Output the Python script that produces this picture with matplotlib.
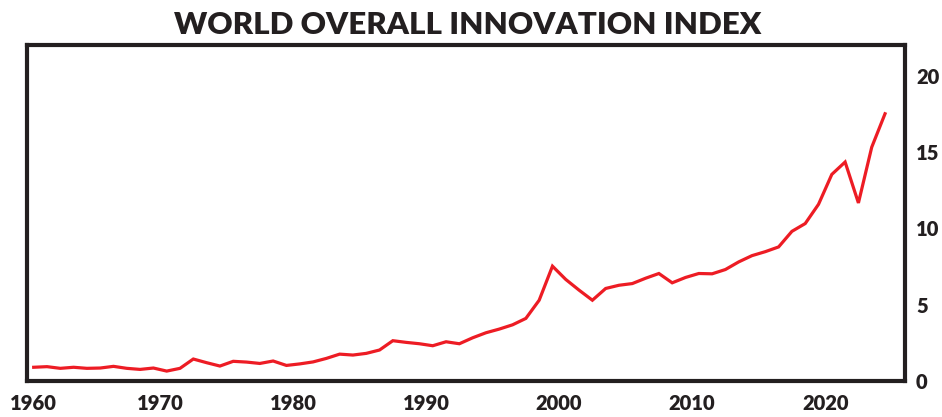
import numpy as np
import matplotlib.pyplot as plt
import matplotlib.transforms as mtransforms

# 연도별 세계 혁신 지수
years = list(range(1960, 2025))
index_values = [
    0.90, 0.94, 0.83, 0.90, 0.83, 0.85, 0.96, 0.83, 0.76, 0.85,  # 1960s
    0.65, 0.83, 1.44, 1.20, 0.98, 1.29, 1.24, 1.15, 1.31, 1.02,  # 1970s
    1.12, 1.25, 1.48, 1.76, 1.70, 1.81, 2.03, 2.64, 2.53, 2.44,  # 1980s
    2.31, 2.57, 2.44, 2.83, 3.16, 3.40, 3.68, 4.10, 5.29, 7.52,  # 1990s
    6.65, 5.95, 5.29, 6.06, 6.27, 6.38, 6.73, 7.04, 6.43, 6.78,  # 2000s
    7.04, 7.02, 7.30, 7.80, 8.21, 8.47, 8.78, 9.80, 10.31, 11.57,  # 2010s
    13.53, 14.34, 11.66, 15.31, 17.50,  # 2020s
]
x_ticks = [1960, 1970, 1980, 1990, 2000, 2010, 2020]
y_ticks = [0, 5, 10, 15, 20]

TEXT_COLOR = '#231f20'
LINE_COLOR = '#ed1c24'

plt.rcParams['font.family'] = ['Lato', 'DejaVu Sans']

fig = plt.figure(figsize=(9.42, 4.17), dpi=100)
ax = fig.add_axes([0.0287, 0.0863, 0.932, 0.8057])

# 연중(7월) 기준으로 찍기 위해 0.5년 이동
x = np.array(years) + 0.5
ax.plot(x, index_values, color=LINE_COLOR, linewidth=2.3, solid_joinstyle='miter')

ax.set_xlim(1960, 2026)
ax.set_ylim(0, 22)

ax.set_xticks(x_ticks)
ax.set_xticklabels([str(t) for t in x_ticks])
ax.set_yticks(y_ticks)
ax.yaxis.tick_right()

ax.tick_params(axis='both', length=0, labelsize=14.5, labelcolor=TEXT_COLOR)
ax.tick_params(axis='x', pad=9)
ax.tick_params(axis='y', pad=8)
for lbl in ax.get_xticklabels() + ax.get_yticklabels():
    lbl.set_fontweight('heavy')

# 첫 번째 라벨은 왼쪽 잘림 방지를 위해 오른쪽으로 살짝 이동
first = ax.get_xticklabels()[0]
first.set_transform(first.get_transform() +
                    mtransforms.ScaledTranslation(6.5 / 100, 0, fig.dpi_scale_trans))

for side in ['left', 'right', 'top', 'bottom']:
    ax.spines[side].set_linewidth(3.0)
    ax.spines[side].set_color(TEXT_COLOR)

fig.text(0.496, 0.907, 'WORLD OVERALL INNOVATION INDEX', ha='center', va='bottom',
         fontsize=22.5, fontweight='heavy', color=TEXT_COLOR)

plt.savefig('out.png', dpi=100)
plt.close()
